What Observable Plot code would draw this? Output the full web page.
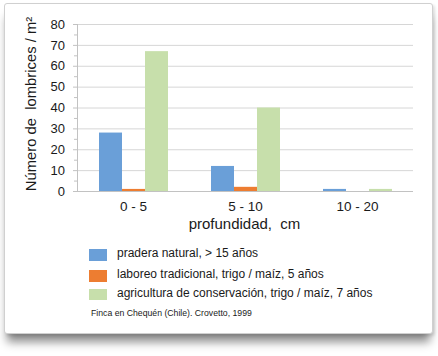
<!DOCTYPE html>
<html>
<head>
<meta charset="utf-8">
<script src="https://cdn.jsdelivr.net/npm/d3@7"></script>
<script src="https://cdn.jsdelivr.net/npm/@observablehq/plot@0.6"></script>
<style>
  html, body { margin: 0; padding: 0; background: #ffffff; }
  body { width: 438px; height: 356px; position: relative; overflow: hidden; font-family: "Liberation Sans", Arial, sans-serif; color: #1a1a1a; }
  #card { position: absolute; left: 4px; top: 3px; width: 427px; height: 329px; background: #fff; border: 1px solid #d0d0d0; border-radius: 3px; box-shadow: 0 11px 9px -3px rgba(0,0,0,0.45), 2px 2px 3px rgba(0,0,0,0.12); }
  #chart { position: absolute; left: 0; top: 0; }
  .txt { position: absolute; white-space: pre; }
  #ylabel { left: 31px; top: 104px; font-size: 14.8px; line-height: 14.8px; transform: translate(-50%, -50%) rotate(-90deg); }
  #xlabel { left: 244.5px; top: 216px; font-size: 15px; line-height: 15px; transform: translateX(-50%); }
  .legrow { position: absolute; left: 89px; font-size: 12px; line-height: 12px; white-space: pre; }
  .sw { position: absolute; left: 0; width: 18px; }
  .lt { position: absolute; left: 28px; }
  #caption { left: 91px; top: 309.3px; font-size: 8.7px; line-height: 8.7px; }
</style>
</head>
<body>
<div id="card"></div>
<div id="chart"></div>
<script>
// ---- data ----
const depths = ["0 - 5", "5 - 10", "10 - 20"];
const seriesNames = [
  "pradera natural, > 15 años",
  "laboreo tradicional, trigo / maíz, 5 años",
  "agricultura de conservación, trigo / maíz, 7 años"
];
const pradera = [28, 12, 1];
const laboreo = [1, 2, 0];
const agricultura = [67, 40, 1];
const seriesColors = ["#6a9fd8", "#ed7d31", "#c7dfab"];
const yTicks = [0, 10, 20, 30, 40, 50, 60, 70, 80];
const yMinorTicks = [5, 15, 25, 35, 45, 55, 65, 75];
const yLabel = "Número de  lombrices / m²";
const xLabel = "profundidad,  cm";
const caption = "Finca en Chequén (Chile). Crovetto, 1999";

const seriesValues = [pradera, laboreo, agricultura];
const rows = [];
seriesNames.forEach((s, i) => depths.forEach((d, j) => rows.push({depth: d, series: s, value: seriesValues[i][j]})));

const gridColor = "#d6d6d6";
const axisColor = "#c2c2c2";

const chart = Plot.plot({
  width: 438,
  height: 215,
  marginLeft: 77,
  marginRight: 25,
  marginTop: 24,
  marginBottom: 24,
  style: {background: "transparent", fontFamily: "'Liberation Sans', Arial, sans-serif", color: "#1a1a1a"},
  fx: {domain: depths, padding: 0, axis: null, label: null},
  x: {domain: seriesNames, paddingInner: 0, paddingOuter: 0.93, axis: null, label: null},
  y: {domain: [0, 80], axis: null, label: null},
  color: {domain: seriesNames, range: seriesColors},
  marks: [
    Plot.ruleY(yTicks.slice(1), {stroke: gridColor, strokeWidth: 1}),
    Plot.barY(rows, {fx: "depth", x: "series", y: "value", fill: "series"}),
    Plot.ruleY([0], {stroke: axisColor, strokeWidth: 1}),
    Plot.frame({anchor: "left", stroke: axisColor, facetAnchor: "left"}),
    Plot.axisY(yTicks, {tickSize: 4, tickPadding: 8.5, stroke: axisColor, fontSize: 13, fill: "#1a1a1a", label: null}),
    Plot.axisY(yMinorTicks, {tickSize: 3, tickFormat: () => "", stroke: axisColor, label: null}),
    Plot.axisFx({anchor: "bottom", tickSize: 0, tickPadding: 9.5, fontSize: 13.5, fill: "#1a1a1a", label: null})
  ]
});
document.getElementById("chart").appendChild(chart);

// ---- labels, legend, caption ----
function addText(id, cls, text) {
  const el = document.createElement("div");
  el.id = id; el.className = cls; el.textContent = text;
  document.body.appendChild(el);
  return el;
}
addText("ylabel", "txt", yLabel);
addText("xlabel", "txt", xLabel);

const legendRowTops = [249, 270, 289];
const legendSwatchHeights = [12, 12, 11];
seriesNames.forEach((s, i) => {
  const row = document.createElement("div");
  row.className = "legrow";
  row.style.top = legendRowTops[i] + "px";
  const sw = document.createElement("div");
  sw.className = "sw";
  sw.style.top = "0px";
  sw.style.height = legendSwatchHeights[i] + "px";
  sw.style.background = seriesColors[i];
  const t = document.createElement("div");
  t.className = "lt";
  t.style.top = (i === 2 ? -2.5 : -2) + "px";
  t.textContent = s;
  row.appendChild(sw); row.appendChild(t);
  document.body.appendChild(row);
});
addText("caption", "txt", caption);
</script>
</body>
</html>
